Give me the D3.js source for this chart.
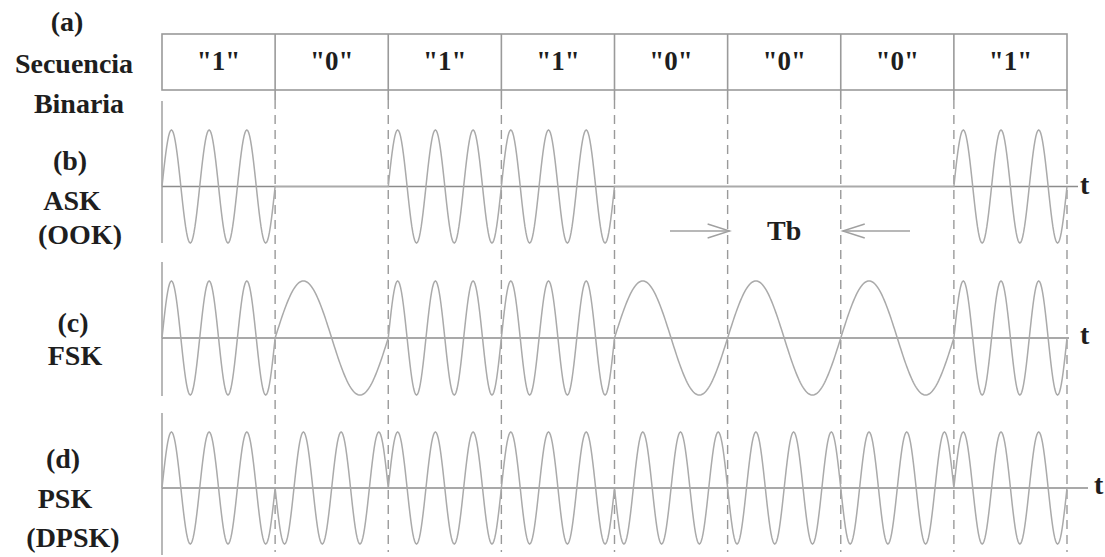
<!DOCTYPE html>
<html><head><meta charset="utf-8">
<script src="https://cdn.jsdelivr.net/npm/d3@7"></script>
<style>body{margin:0;background:#fff}svg{display:block}</style>
</head><body>
<svg id="c" width="1105" height="557"></svg>
<script>
// ---- data ----
const bits = [1, 0, 1, 1, 0, 0, 0, 1];
const bitLabels = ['"1"', '"0"', '"1"', '"1"', '"0"', '"0"', '"0"', '"1"'];
const askAmplitude = [1, 0, 1, 1, 0, 0, 0, 1];        // OOK: carrier on/off
const fskCycles = [3, 1, 3, 3, 1, 1, 1, 3];           // cycles per bit period
const pskPhase = [0, 180, 0, 0, 180, 180, 180, 0];    // degrees
const carrierCycles = 3;
const rowLabels = [
  {panel: "a", lines: ["(a)", "Secuencia", "Binaria"]},
  {panel: "b", lines: ["(b)", "ASK", "(OOK)"]},
  {panel: "c", lines: ["(c)", "FSK"]},
  {panel: "d", lines: ["(d)", "PSK", "(DPSK)"]}
];

const svg = d3.select("#c");
const font = "'Liberation Serif','DejaVu Serif',serif";
const textCol = "#1e1e1e";
const lineCol = "#9a9a9a";
const waveCol = "#aaaaaa";

const x = d3.scaleLinear().domain([0, bits.length]).range([162, 1067]);

// panels
const panels = {
  b: {center: 186.5, amp: 56.5, axisTop: 101, axisBot: 243, lineEnd: 1078, tX: 1080, tY: 194},
  c: {center: 338, amp: 57, axisTop: 262, axisBot: 396, lineEnd: 1069, tX: 1080, tY: 344},
  d: {center: 488, amp: 56, axisTop: 413, axisBot: 555, lineEnd: 1088, tX: 1094, tY: 494}
};
function yScale(p) {
  return d3.scaleLinear().domain([-1, 1]).range([p.center + p.amp, p.center - p.amp]);
}

// ---- table (a) ----
const tTop = 34, tBot = 90;
svg.append("rect").attr("x", x(0)).attr("y", tTop).attr("width", x(8) - x(0)).attr("height", tBot - tTop)
  .attr("fill", "none").attr("stroke", lineCol).attr("stroke-width", 1.6);
svg.selectAll(".cellDiv").data(d3.range(1, bits.length)).join("line")
  .attr("x1", d => x(d)).attr("x2", d => x(d)).attr("y1", tTop).attr("y2", tBot + 10)
  .attr("stroke", lineCol).attr("stroke-width", 1.6);
svg.append("line").attr("x1", x(8)).attr("x2", x(8)).attr("y1", tBot).attr("y2", tBot + 10)
  .attr("stroke", lineCol).attr("stroke-width", 1.6);
svg.selectAll(".cellTxt").data(bitLabels).join("text")
  .attr("x", (d, i) => x(i + 0.5)).attr("y", 70).attr("text-anchor", "middle")
  .attr("font-family", font).attr("font-size", 27).attr("font-weight", "bold").attr("fill", textCol)
  .text(d => d);

// ---- dashed bit boundaries ----
svg.selectAll(".dash").data(d3.range(1, bits.length + 1)).join("line")
  .attr("x1", d => x(d)).attr("x2", d => x(d)).attr("y1", tBot + 10).attr("y2", 552)
  .attr("stroke", lineCol).attr("stroke-width", 1.4).attr("stroke-dasharray", "9,6");

// ---- waveforms ----
function wave(p, ampArr, cycArr, phaseArr) {
  const y = yScale(p);
  const pts = [];
  const N = 120;
  for (let b = 0; b < bits.length; b++) {
    for (let k = 0; k <= N; k++) {
      const u = k / N;
      const v = ampArr[b] * Math.sin(2 * Math.PI * cycArr[b] * u + phaseArr[b] * Math.PI / 180);
      pts.push([x(b + u), y(v)]);
    }
  }
  return d3.line()(pts);
}
function axes(p) {
  svg.append("line").attr("x1", x(0)).attr("x2", x(0)).attr("y1", p.axisTop).attr("y2", p.axisBot)
    .attr("stroke", lineCol).attr("stroke-width", 1.4);
  svg.append("line").attr("x1", x(0)).attr("x2", p.lineEnd).attr("y1", p.center).attr("y2", p.center)
    .attr("stroke", "#8c8c8c").attr("stroke-width", 1.6);
  svg.append("text").attr("x", p.tX).attr("y", p.tY).attr("font-family", font).attr("font-size", 28)
    .attr("font-weight", "bold").attr("fill", textCol).text("t");
}
const ones = bits.map(() => carrierCycles);
const zeros = bits.map(() => 0);
const unit = bits.map(() => 1);

// ASK: amplitude from data, zero amplitude => flat
axes(panels.b);
svg.append("path").attr("d", wave(panels.b, askAmplitude, ones, zeros))
  .attr("fill", "none").attr("stroke", waveCol).attr("stroke-width", 1.5);
// FSK
axes(panels.c);
svg.append("path").attr("d", wave(panels.c, unit, fskCycles, zeros))
  .attr("fill", "none").attr("stroke", waveCol).attr("stroke-width", 1.5);
// PSK
axes(panels.d);
svg.append("path").attr("d", wave(panels.d, unit, ones, pskPhase))
  .attr("fill", "none").attr("stroke", waveCol).attr("stroke-width", 1.5);

// ---- Tb annotation ----
const ay = 231;
function arrow(x1, x2) {
  const dir = Math.sign(x2 - x1);
  const g = svg.append("g").attr("stroke", "#a0a0a0").attr("stroke-width", 1.4).attr("fill", "none");
  g.append("line").attr("x1", x1).attr("x2", x2).attr("y1", ay).attr("y2", ay);
  g.append("path").attr("d", `M${x2 - dir * 22},${ay - 7} L${x2},${ay} L${x2 - dir * 22},${ay + 7}`);
}
arrow(670, x(5) + 2);
arrow(910, x(6) + 2);
svg.append("text").attr("x", (x(5) + x(6)) / 2).attr("y", 240).attr("text-anchor", "middle")
  .attr("font-family", font).attr("font-size", 28).attr("font-weight", "bold").attr("fill", textCol).text("Tb");

// ---- row labels ----
const labelPos = {
  a: [[67, 31], [74, 73], [79, 113]],
  b: [[70, 170], [72, 210], [80, 244]],
  c: [[73, 332], [75, 365]],
  d: [[63, 468], [65, 508], [73, 547]]
};
rowLabels.forEach(r => {
  r.lines.forEach((t, i) => {
    const [lx, ly] = labelPos[r.panel][i];
    svg.append("text").attr("x", lx).attr("y", ly).attr("text-anchor", "middle")
      .attr("font-family", font).attr("font-size", 28).attr("font-weight", "bold")
      .attr("fill", textCol).text(t);
  });
});
</script>
</body></html>
